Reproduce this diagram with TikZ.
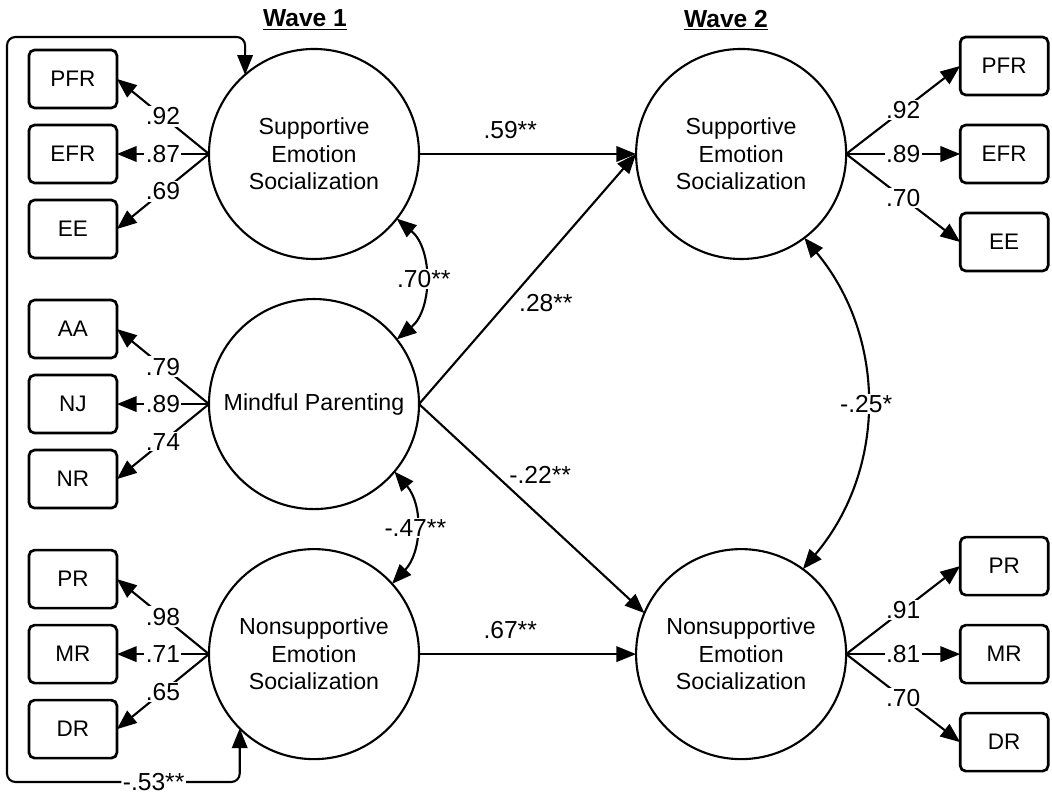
\documentclass[tikz,border=0pt]{standalone}
\usepackage{fontspec}
\setmainfont{Liberation Sans}
\usetikzlibrary{arrows.meta,positioning}

\begin{document}
\begin{tikzpicture}[x=0.025cm, y=0.025cm, node distance=0.425cm and 2.3cm,
  >={Triangle[length=14pt,width=11pt]},
  latent/.style={draw, circle, line width=1.5pt, minimum size=5.25cm, inner sep=0pt,
    outer sep=0pt, align=center, font=\fontsize{16.5}{19.5}\selectfont},
  ind/.style={draw, rounded corners=4pt, line width=1.9pt, minimum width=2.2cm,
    minimum height=1.45cm, outer sep=0pt, font=\fontsize{16}{18}\selectfont},
  lab/.style={font=\fontsize{17.5}{20}\selectfont, inner sep=1pt},
  coef/.style={lab, fill=white},
  title/.style={font=\fontsize{17.5}{20}\selectfont\bfseries},
  arr/.style={->, line width=1.5pt},
  cov/.style={<->, line width=1.5pt}]
  \useasboundingbox (0,0) rectangle (1052,794);
  % latent variables
  \node[latent] (s1) at (314,640) {Supportive\\Emotion\\Socialization};
  \node[latent, below=1cm of s1] (mp) {Mindful Parenting};
  \node[latent, below=1cm of mp] (n1) {Nonsupportive\\Emotion\\Socialization};
  \node[latent, right=5.425cm of s1] (s2) {Supportive\\Emotion\\Socialization};
  \node[latent, right=5.425cm of n1] (n2) {Nonsupportive\\Emotion\\Socialization};
  \node[title] (w1) at (305,774) {\underline{Wave 1}};
  \node[title] (w2) at (726,774) {\underline{Wave 2}};
  % wave 1 indicators
  \node[ind, left=of s1] (efr1) {EFR};
  \node[ind, above=of efr1] (pfr1) {PFR};
  \node[ind, below=of efr1] (ee1) {EE};
  \node[ind, left=of mp] (nj) {NJ};
  \node[ind, above=of nj] (aa) {AA};
  \node[ind, below=of nj] (nr) {NR};
  \node[ind, left=of n1] (mr1) {MR};
  \node[ind, above=of mr1] (pr1) {PR};
  \node[ind, below=of mr1] (dr1) {DR};
  % wave 2 indicators
  \node[ind, right=2.85cm of s2] (efr2) {EFR};
  \node[ind, above=0.75cm of efr2] (pfr2) {PFR};
  \node[ind, below=0.75cm of efr2] (ee2) {EE};
  \node[ind, right=2.85cm of n2] (mr2) {MR};
  \node[ind, above=0.75cm of mr2] (pr2) {PR};
  \node[ind, below=0.75cm of mr2] (dr2) {DR};
  \coordinate (lt) at (7,757);
  \coordinate (lb) at (7,12);
  % loadings
  \draw[arr] (s1.west) -- node[coef] {.92} (pfr1.east);
  \draw[arr] (s1.west) -- node[coef] {.87} (efr1.east);
  \draw[arr] (s1.west) -- node[coef] {.69} (ee1.east);
  \draw[arr] (mp.west) -- node[coef] {.79} (aa.east);
  \draw[arr] (mp.west) -- node[coef] {.89} (nj.east);
  \draw[arr] (mp.west) -- node[coef] {.74} (nr.east);
  \draw[arr] (n1.west) -- node[coef] {.98} (pr1.east);
  \draw[arr] (n1.west) -- node[coef] {.71} (mr1.east);
  \draw[arr] (n1.west) -- node[coef] {.65} (dr1.east);
  \draw[arr] (s2.east) -- node[coef] {.92} (pfr2.west);
  \draw[arr] (s2.east) -- node[coef] {.89} (efr2.west);
  \draw[arr] (s2.east) -- node[coef] {.70} (ee2.west);
  \draw[arr] (n2.east) -- node[coef] {.91} (pr2.west);
  \draw[arr] (n2.east) -- node[coef] {.81} (mr2.west);
  \draw[arr] (n2.east) -- node[coef] {.70} (dr2.west);
  % paths
  \draw[arr] (s1.east) -- node[lab, above=9pt, pos=0.42] {.59**} (s2.west);
  \draw[arr] (n1.east) -- node[lab, above=9pt, pos=0.42] {.67**} (n2.west);
  \draw[arr] (mp.east) -- node[lab, pos=0.45, anchor=north west] {.28**} (s2.west);
  \draw[arr] (mp.east) -- node[lab, pos=0.39, anchor=south west] {-.22**} (n2.157);
  % covariances
  \draw[cov] (s1.-38) to[bend left=50] node[coef] {.70**} (mp.38);
  \draw[cov] (mp.-40) to[bend left=42] node[coef] {-.47**} (n1.42);
  \draw[cov] (s2.-53) to[bend left=40] node[coef] {-.25*} (n2.54);
  \draw[cov, rounded corners=6pt] (s1.131) -- (s1.131 |- lt) -- (lt) -- (lb)
    -- node[coef, pos=0.63] {-.53**} (n1.225 |- lb) -- (n1.225);
\end{tikzpicture}
\end{document}
